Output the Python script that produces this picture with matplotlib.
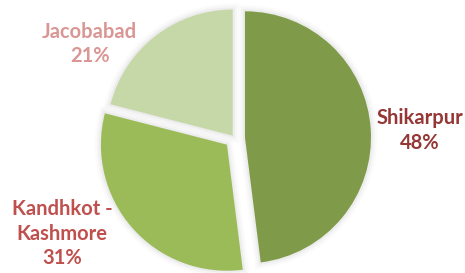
import matplotlib
matplotlib.use("Agg")
import matplotlib.pyplot as plt
import matplotlib.patheffects as pe

districts = ["Shikarpur", "Kandhkot -\nKashmore", "Jacobabad"]
shares = [48, 31, 21]
slice_colors = ["#7f9b49", "#9bbb59", "#c6d7a8"]
label_colors = ["#953735", "#c0504d", "#d99694"]
explode = [0.083, 0.08, 0.024]
label_pos = [(1.468, 0.06), (-1.37, -0.76), (-1.15, 0.745)]

fig = plt.figure(figsize=(4.65, 2.73), dpi=100)
ax = fig.add_axes([0, 0, 1, 1])
wedges, _ = ax.pie(shares, colors=slice_colors, explode=explode,
                   startangle=90, counterclock=False, radius=1.0,
                   wedgeprops=dict(linewidth=0))
shadow = [pe.Stroke(linewidth=9, foreground="black", alpha=0.015),
          pe.Stroke(linewidth=6, foreground="black", alpha=0.025),
          pe.Stroke(linewidth=3, foreground="black", alpha=0.035),
          pe.Normal()]
for w in wedges:
    w.set_path_effects(shadow)

for name, val, col, (x, y) in zip(districts, shares, label_colors, label_pos):
    ax.text(x, y, f"{name}\n{val}%", color=col, ha="center", va="center",
            fontsize=14.5, fontweight="bold", family="Lato", linespacing=1.27)

ax.set_xlim(-1.861, 1.829)
ax.set_ylim(-1.071, 1.095)
ax.set_aspect("equal", adjustable="box")
ax.axis("off")
fig.savefig("out.png", dpi=100)
